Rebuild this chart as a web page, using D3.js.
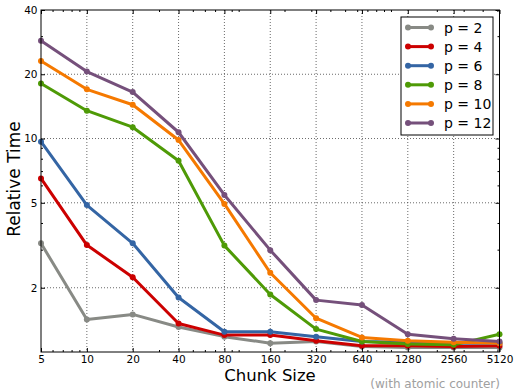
<!DOCTYPE html>
<html>
<head>
<meta charset="utf-8">
<script src="https://cdn.jsdelivr.net/npm/d3@7"></script>
<style>
  body { margin: 0; background: #fff; }
  text { font-family: "DejaVu Sans", sans-serif; }
</style>
</head>
<body>
<div id="chart"></div>
<script>
// chunk sizes on the x axis
const chunks = [5, 10, 20, 40, 80, 160, 320, 640, 1280, 2560, 5120];
const xTicks = chunks;
const yTicks = [2, 5, 10, 20, 40];

const p2 = [3.23, 1.42, 1.50, 1.31, 1.18, 1.10, 1.12, 1.06, 1.05, 1.05, 1.05];
const p4 = [6.5, 3.17, 2.24, 1.36, 1.20, 1.20, 1.13, 1.07, 1.07, 1.06, 1.07];
const p6 = [9.67, 4.88, 3.23, 1.80, 1.245, 1.245, 1.18, 1.12, 1.11, 1.10, 1.10];
const p8 = [18.1, 13.5, 11.3, 7.87, 3.15, 1.86, 1.28, 1.12, 1.09, 1.08, 1.21];
const p10 = [23.1, 17.0, 14.4, 9.84, 4.94, 2.35, 1.44, 1.17, 1.13, 1.11, 1.10];
const p12 = [28.7, 20.6, 16.5, 10.7, 5.44, 3.0, 1.75, 1.66, 1.21, 1.154, 1.12];

const seriesNames = ['p = 2', 'p = 4', 'p = 6', 'p = 8', 'p = 10', 'p = 12'];
const seriesValues = [p2, p4, p6, p8, p10, p12];
const colors = ['#888a85', '#cc0000', '#3465a4', '#4e9a06', '#f57900', '#75507b'];

const W = 516, H = 391;
const mLeft = 41, mRight = 499.5, mTop = 10, mBottom = 352;

const svg = d3.select('#chart').append('svg')
  .attr('width', W).attr('height', H);

const x = d3.scaleLog().base(2).domain([5, 5120]).range([mLeft, mRight]);
const y = d3.scaleLog().domain([1, 40]).range([mBottom, mTop]);

// minor ticks (log 10 style)
function minors(lo, hi, majors) {
  let out = [];
  for (let dec = 1; dec <= 1000; dec *= 10) {
    for (let k = 1; k <= 9; k++) {
      let v = k * dec;
      if (v > lo && v < hi && majors.indexOf(v) < 0) out.push(v);
    }
  }
  return out;
}
const xMinor = minors(5, 5120, xTicks);
const yMinor = minors(1, 40, yTicks);

// grid
const grid = svg.append('g').attr('class', 'grid');
grid.selectAll('.gx').data(xTicks.slice(1, -1)).enter().append('line')
  .attr('x1', d => x(d)).attr('x2', d => x(d))
  .attr('y1', mTop).attr('y2', mBottom)
  .attr('stroke', '#444').attr('stroke-width', 0.8).attr('stroke-dasharray', '1,2');
grid.selectAll('.gy').data(yTicks.slice(0, -1)).enter().append('line')
  .attr('x1', mLeft).attr('x2', mRight)
  .attr('y1', d => y(d)).attr('y2', d => y(d))
  .attr('stroke', '#444').attr('stroke-width', 0.8).attr('stroke-dasharray', '1,2');

// lines
const line = d3.line()
  .x((d, i) => x(chunks[i]))
  .y(d => y(d));

seriesValues.forEach((vals, s) => {
  svg.append('path')
    .datum(vals)
    .attr('d', line)
    .attr('fill', 'none')
    .attr('stroke', colors[s])
    .attr('stroke-width', 3)
    .attr('stroke-linejoin', 'round');
  svg.selectAll('.pt' + s).data(vals).enter().append('circle')
    .attr('cx', (d, i) => x(chunks[i]))
    .attr('cy', d => y(d))
    .attr('r', 3)
    .attr('fill', colors[s]);
});

// axes, ticks pointing inside on all four sides
const xAxisB = d3.axisBottom(x).tickValues(xTicks).tickFormat(d3.format('d'))
  .tickSizeInner(-4).tickSizeOuter(0).tickPadding(4);
const gxb = svg.append('g').attr('transform', `translate(0,${mBottom})`).call(xAxisB);
gxb.select('.domain').remove();
gxb.selectAll('text').style('font-size', '10.5px').attr('fill', '#000');

const xAxisT = d3.axisTop(x).tickValues(xTicks).tickFormat('').tickSizeInner(-4).tickSizeOuter(0);
svg.append('g').attr('transform', `translate(0,${mTop})`).call(xAxisT).select('.domain').remove();

[[mBottom, -2], [mTop, 2]].forEach(([yy, len]) => {
  svg.append('g').selectAll('line').data(xMinor).enter().append('line')
    .attr('x1', d => x(d)).attr('x2', d => x(d))
    .attr('y1', yy).attr('y2', yy + len)
    .attr('stroke', '#000');
});

const yAxisL = d3.axisLeft(y).tickValues(yTicks).tickFormat(d3.format('d'))
  .tickSizeInner(-4).tickSizeOuter(0).tickPadding(3.5);
const gyl = svg.append('g').attr('transform', `translate(${mLeft},0)`).call(yAxisL);
gyl.select('.domain').remove();
gyl.selectAll('text').style('font-size', '10.5px').attr('fill', '#000');

const yAxisR = d3.axisRight(y).tickValues(yTicks).tickFormat('').tickSizeInner(-4).tickSizeOuter(0);
svg.append('g').attr('transform', `translate(${mRight},0)`).call(yAxisR).select('.domain').remove();

[[mLeft, 2], [mRight, -2]].forEach(([xx, len]) => {
  svg.append('g').selectAll('line').data(yMinor).enter().append('line')
    .attr('x1', xx).attr('x2', xx + len)
    .attr('y1', d => y(d)).attr('y2', d => y(d))
    .attr('stroke', '#000');
});

// frame
svg.append('rect')
  .attr('x', mLeft).attr('y', mTop)
  .attr('width', mRight - mLeft).attr('height', mBottom - mTop)
  .attr('fill', 'none').attr('stroke', '#000').attr('stroke-width', 1);

// axis titles
svg.append('text')
  .attr('x', 270).attr('y', 381)
  .attr('text-anchor', 'middle')
  .style('font-size', '16.5px')
  .text('Chunk Size');

svg.append('text')
  .attr('transform', 'translate(20,179) rotate(-90)')
  .attr('text-anchor', 'middle')
  .style('font-size', '17px')
  .text('Relative Time');

svg.append('text')
  .attr('x', 500).attr('y', 388)
  .attr('text-anchor', 'end')
  .attr('fill', '#a0a0a0')
  .style('font-size', '12px')
  .text('(with atomic counter)');

// legend
const lg = svg.append('g').attr('transform', 'translate(401,17)');
lg.append('rect')
  .attr('width', 92).attr('height', 118)
  .attr('fill', '#fff').attr('stroke', '#000').attr('stroke-width', 1);
seriesNames.forEach((name, i) => {
  const yy = 10.5 + i * 19.1;
  lg.append('line')
    .attr('x1', 7).attr('x2', 30).attr('y1', yy).attr('y2', yy)
    .attr('stroke', colors[i]).attr('stroke-width', 3);
  lg.append('circle').attr('cx', 7).attr('cy', yy).attr('r', 3).attr('fill', colors[i]);
  lg.append('circle').attr('cx', 30).attr('cy', yy).attr('r', 3).attr('fill', colors[i]);
  lg.append('text')
    .attr('x', 43).attr('y', yy + 5)
    .style('font-size', '14px')
    .text(name);
});
</script>
</body>
</html>
